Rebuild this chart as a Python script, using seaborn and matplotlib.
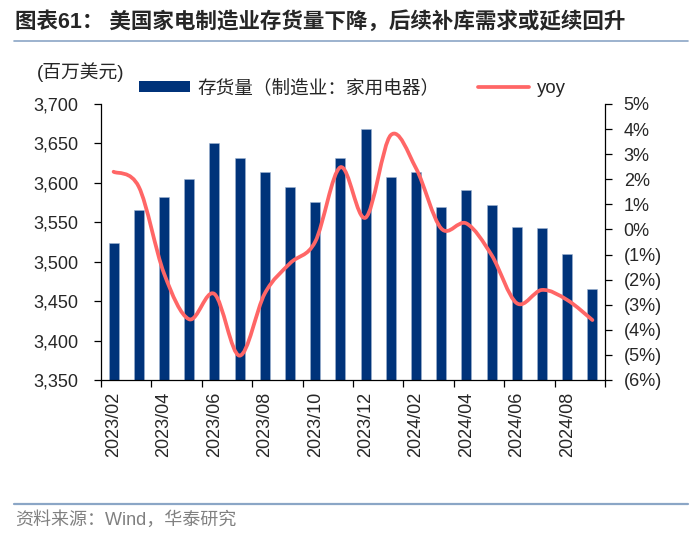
import numpy as np
import pandas as pd
import matplotlib
matplotlib.use("Agg")
from matplotlib import pyplot as plt
from matplotlib.path import Path
from matplotlib.patches import PathPatch, Patch
from matplotlib.lines import Line2D
from matplotlib.ticker import FuncFormatter, FixedLocator
import seaborn as sns

# data
months = ["2023/02", "2023/03", "2023/04", "2023/05", "2023/06", "2023/07",
          "2023/08", "2023/09", "2023/10", "2023/11", "2023/12", "2024/01",
          "2024/02", "2024/03", "2024/04", "2024/05", "2024/06", "2024/07",
          "2024/08", "2024/09"]
inventory = [3524, 3566, 3582, 3605, 3651, 3632, 3614, 3595, 3576, 3631,
             3668, 3608, 3614, 3570, 3591, 3572, 3544, 3543, 3510, 3465]
yoy = [2.30, 1.70, -1.75, -3.58, -2.57, -5.03, -2.55, -1.35, -0.49, 2.48,
       0.47, 3.76, 2.44, 0.04, 0.24, -1.02, -2.94, -2.41, -2.81, -3.61]

left_ticks = [3350, 3400, 3450, 3500, 3550, 3600, 3650, 3700]
right_ticks = [-6, -5, -4, -3, -2, -1, 0, 1, 2, 3, 4, 5]

title = "图表61： 美国家电制造业存货量下降，后续补库需求或延续回升"
unit_label = "(百万美元)"
bar_label = "存货量（制造业：家用电器）"
line_label = "yoy"
source = "资料来源：Wind，华泰研究"

navy = "#00337A"
salmon = "#FF6666"
rule_color = "#8BA6C6"

sns.set_style("ticks")
plt.rcParams['font.family'] = ['Liberation Sans', 'Noto Sans CJK SC', 'DejaVu Sans']
plt.rcParams['font.size'] = 13

df = pd.DataFrame({"month": months, "inventory": inventory, "yoy": yoy})

fig = plt.figure(figsize=(7.0, 5.36), dpi=100)
ax = fig.add_axes([101 / 700, 156 / 536, 504 / 700, 276 / 536])

sns.barplot(data=df, x="month", y="inventory", color=navy, saturation=1,
            width=0.4, edgecolor="#9fb3d1", linewidth=0.4, ax=ax)
ax.set_xlim(-0.5, len(months) - 0.5)
ax.set_ylim(3350, 3700)
ax.set_yticks(left_ticks)
ax.yaxis.set_major_formatter(FuncFormatter(lambda v, p: f"{int(v):,}"))
ax.set_xlabel("")
ax.set_ylabel("")

# labels every two months, tick marks between bar pairs
label_pos = list(range(0, len(months), 2))
ax.set_xticks(label_pos)
ax.set_xticklabels([months[i] for i in label_pos], rotation=90)
ax.xaxis.set_minor_locator(FixedLocator(np.arange(-0.5, len(months), 2)))
ax.tick_params(axis="x", which="major", length=0, pad=8.5, labelsize=13)
ax.tick_params(axis="x", which="minor", length=5, width=0.9, direction="out", color="black")
ax.tick_params(axis="y", length=5, width=0.9, direction="out", pad=11, labelsize=13, color="black")

for s in ["top", "right"]:
    ax.spines[s].set_visible(False)
for s in ["left", "bottom"]:
    ax.spines[s].set_color("black")
    ax.spines[s].set_linewidth(0.9)

# yoy on the right axis, smoothed like the original (Catmull-Rom as Bezier)
ax2 = ax.twinx()
ax2.set_ylim(-6, 5)
ax2.set_yticks(right_ticks)
ax2.yaxis.set_major_formatter(FuncFormatter(
    lambda v, p: f"{int(v)}%" if v >= 0 else f"({abs(int(v))}%)"))
ax2.tick_params(axis="y", length=5, width=0.9, direction="out", pad=8.5, labelsize=13, color="black")
for s in ["top", "left", "bottom"]:
    ax2.spines[s].set_visible(False)
ax2.spines["right"].set_color("black")
ax2.spines["right"].set_linewidth(0.9)

pts = np.column_stack([np.arange(len(yoy)), yoy])
verts = [pts[0]]
codes = [Path.MOVETO]
n = len(pts)
for i in range(n - 1):
    p0 = pts[max(i - 1, 0)]
    p1 = pts[i]
    p2 = pts[i + 1]
    p3 = pts[min(i + 2, n - 1)]
    verts += [p1 + (p2 - p0) / 6, p2 - (p3 - p1) / 6, p2]
    codes += [Path.CURVE4] * 3
ax2.add_patch(PathPatch(Path(verts, codes), facecolor="none", edgecolor=salmon,
                        linewidth=2.7, capstyle="round", joinstyle="round"))

# legend on top
handles = [Patch(facecolor=navy, edgecolor="none"),
           Line2D([0], [0], color=salmon, linewidth=2.7)]
fig.legend(handles, [bar_label, line_label], loc="center left",
           bbox_to_anchor=(139 / 700, 1 - 88 / 536), ncol=2, frameon=False,
           handlelength=2.75, handleheight=0.5, handletextpad=0.4,
           columnspacing=2.05, borderpad=0, borderaxespad=0, fontsize=13.4)

fig.text(37 / 700, 1 - 72 / 536, unit_label, ha="left", va="center", fontsize=13.5)

# header and footer
fig.text(15 / 700, 1 - 22 / 536, title, ha="left", va="center", fontsize=15.5, fontweight="bold")
fig.add_artist(Line2D([14 / 700, 688 / 700], [1 - 40.7 / 536] * 2, color=rule_color,
                      linewidth=1.2, transform=fig.transFigure))
fig.add_artist(Line2D([14 / 700, 688 / 700], [1 - 504 / 536] * 2, color=rule_color,
                      linewidth=1.6, transform=fig.transFigure))
fig.text(15 / 700, 1 - 520 / 536, source, ha="left", va="center", fontsize=13, color="#808080")

fig.savefig("out.png", dpi=100)
